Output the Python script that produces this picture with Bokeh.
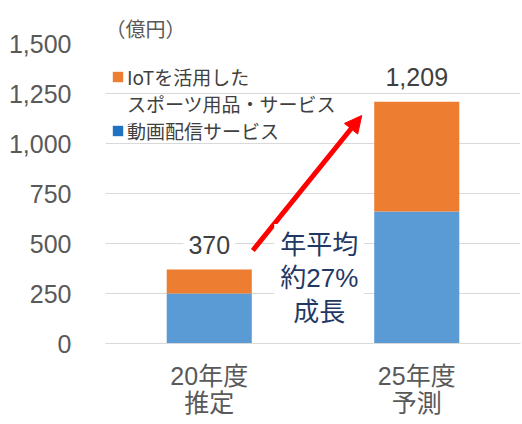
from bokeh.plotting import figure
from bokeh.models import (ColumnDataSource, FactorRange, LabelSet, Label, Arrow, NormalHead,
                          Legend, LegendItem, FixedTicker, NumeralTickFormatter)
from bokeh.core.properties import value
from bokeh.embed import file_html
from bokeh.resources import INLINE

categories = ["20年度\n推定", "25年度\n予測"]
video = [250, 660]
iot = [120, 549]
totals = [370, 1209]
total_labels = ["370", "1,209"]
y_ticks = [0, 250, 500, 750, 1000, 1250, 1500]
series_names = ["動画配信サービス", "IoTを活用した", "スポーツ用品・サービス"]

FONT = "'Liberation Sans', 'Noto Sans CJK JP', sans-serif"
JFONT = "'Noto Sans CJK JP', 'Liberation Sans', sans-serif"

src = ColumnDataSource(dict(cat=categories, video=video, iot=iot, total=totals, lab=total_labels))

p = figure(x_range=FactorRange(*categories, range_padding=0, factor_padding=0),
           y_range=(0, 1500), frame_width=415, frame_height=300, output_backend="svg",
           toolbar_location=None, min_border_left=105, min_border_right=2,
           min_border_top=43, min_border_bottom=60)
p.outline_line_color = None
p.title.text = "（億円）"
p.title.text_font = JFONT
p.title.text_font_size = "20px"
p.title.text_font_style = "normal"
p.title.text_color = "#595959"
p.title.offset = 0
p.title.standoff = 2

p.vbar_stack(["video", "iot"], x="cat", width=0.41, source=src,
             color=["#5B9BD5", "#ED7D31"], line_color=None)

# legend with its own square swatches (no visible data)
nan = float("nan")
r_iot = p.vbar(x=[categories[0]], top=[nan], width=0.1, color="#ED7D31", line_color=None)
r_blank = p.vbar(x=[categories[0]], top=[nan], width=0.1, alpha=0, line_color=None)
r_vid = p.vbar(x=[categories[0]], top=[nan], width=0.1, color="#1F73C2", line_color=None)
legend = Legend(items=[LegendItem(label=series_names[1], renderers=[r_iot]),
                       LegendItem(label=series_names[2], renderers=[r_blank]),
                       LegendItem(label=series_names[0], renderers=[r_vid])],
                location=(6, 199), background_fill_alpha=0, border_line_alpha=0,
                label_text_font=JFONT, label_text_font_size="19px", label_text_color="#404040",
                glyph_width=13, glyph_height=13, label_standoff=3, spacing=0,
                padding=0, margin=0, label_height=25)
p.add_layout(legend)

labels = LabelSet(x="cat", y="total", text="lab", source=src, y_offset=16,
                  text_align="center", text_baseline="bottom",
                  text_font=value(FONT), text_font_size="25px", text_color="#404040",
                  background_fill_color="white", border_line_color="white",
                  border_line_width=10)
p.add_layout(labels)

p.add_layout(Arrow(x_start=0.71, y_start=465, x_end=1.235, y_end=1140,
                   line_color="#FF0000", line_width=5,
                   end=NormalHead(size=17, fill_color="#FF0000", line_color="#FF0000")))

p.add_layout(Label(x=1.03, y=325, text="年平均\n約27%\n成長", text_align="center",
                   text_baseline="middle", text_font=FONT, text_font_size="26px",
                   text_color="#1F3864", background_fill_color="white", padding=6,
                   text_line_height=1.12))

p.yaxis.ticker = FixedTicker(ticks=y_ticks)
p.yaxis.formatter = NumeralTickFormatter(format="0,0")
p.yaxis.axis_line_color = None
p.yaxis.major_tick_line_color = None
p.yaxis.minor_tick_line_color = None
p.yaxis.major_label_text_font = FONT
p.yaxis.major_label_text_font_size = "25px"
p.yaxis.major_label_text_color = "#595959"
p.yaxis.major_label_standoff = 28

p.xaxis.axis_line_color = "#D9D9D9"
p.xaxis.major_tick_line_color = None
p.xaxis.minor_tick_line_color = None
p.xaxis.major_label_text_font = FONT
p.xaxis.major_label_text_font_size = "25px"
p.xaxis.major_label_text_color = "#595959"
p.xaxis.major_label_text_line_height = 0.97
p.xaxis.major_label_standoff = 12

p.xgrid.grid_line_color = None
p.ygrid.grid_line_color = "#D9D9D9"

open("out.html", "w").write(file_html(p, INLINE))
